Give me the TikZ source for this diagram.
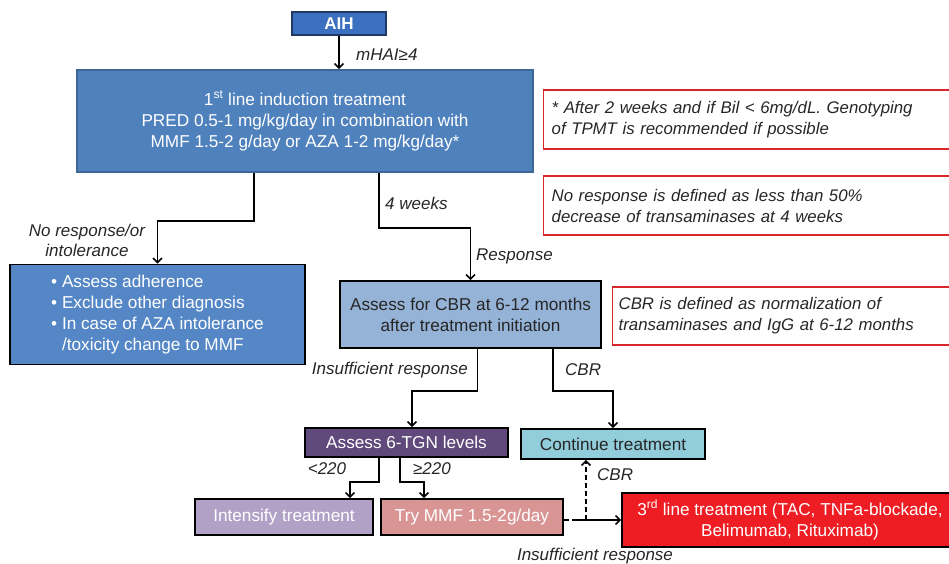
\documentclass[tikz,border=0pt]{standalone}
\usepackage{fontspec}
\setmainfont{Liberation Sans}
\usepackage{tikz}
\usetikzlibrary{positioning, arrows.meta}
\definecolor{aihBlue}{HTML}{3A70BF}
\definecolor{aihBorder}{HTML}{1F3864}
\definecolor{firstBlue}{HTML}{4F81BD}
\definecolor{firstBorder}{HTML}{3D6796}
\definecolor{bulletBlue}{HTML}{5587C6}
\definecolor{cbrBlue}{HTML}{95B3D7}
\definecolor{tgnPurple}{HTML}{604A7B}
\definecolor{continueCyan}{HTML}{92CDDC}
\definecolor{intensifyLilac}{HTML}{B2A1C7}
\definecolor{tryPink}{HTML}{D99594}
\definecolor{thirdRed}{HTML}{EE1D23}
\definecolor{noteRed}{HTML}{D9262A}
\definecolor{darkText}{HTML}{262626}
\tikzstyle{chart} = [x = 1pt, y = -1pt]
\tikzstyle{boxStyle} = [draw=black, line width=1.6pt, inner sep=0pt, align=center, font=\fontsize{17.2}{21}\selectfont]
\tikzstyle{whiteBox} = [boxStyle, text=white]
\tikzstyle{noteStyle} = [draw=noteRed, line width=1.3pt, anchor=west, align=left, inner ysep=0pt, minimum height=59pt, text=darkText, font=\fontsize{16.8}{21}\selectfont\itshape]
\tikzstyle{flowLine} = [line width=1.6pt, -{Straight Barb[length=4.5pt, width=9pt]}]
\tikzstyle{dashLine} = [dash pattern=on 5pt off 3pt]
\tikzstyle{flowLabel} = [font=\fontsize{17}{20}\selectfont\itshape, text=darkText, inner sep=0pt]
\tikzset{sizedBox/.style 2 args={minimum width=#1pt, minimum height=#2pt}}

\begin{document}
\begin{tikzpicture}[chart]
  \useasboundingbox (0,0) rectangle (949,564);
  % boxes
  \node [whiteBox, fill=aihBlue, draw=aihBorder, sizedBox={94}{23}, font=\fontsize{17}{20}\selectfont\bfseries] (aih) at (339,23.5) {AIH};
  \node [whiteBox, fill=firstBlue, draw=firstBorder, sizedBox={456}{102}] (firstLine) at (305,121) {1\textsuperscript{st} line induction treatment\\PRED 0.5-1 mg/kg/day in combination with\\MMF 1.5-2 g/day or AZA 1-2 mg/kg/day*};
  \node [whiteBox, fill=bulletBlue, sizedBox={295}{100}, align=left] (adherence) at (157.5,314.5) {\textbullet\ Assess adherence\\\textbullet\ Exclude other diagnosis\\\textbullet\ In case of AZA intolerance\\\hphantom{\textbullet\ }/toxicity change to MMF};
  \node [boxStyle, fill=cbrBlue, text=darkText, sizedBox={261}{67}] (cbrBox) at (470.5,314.5) {Assess for CBR at 6-12 months\\after treatment initiation};
  \node [whiteBox, fill=tgnPurple, sizedBox={203}{29}] (tgn) at (406.5,442.5) {Assess 6-TGN levels};
  \node [boxStyle, fill=continueCyan, text=darkText, sizedBox={184}{30}] (continue) at (613,444) {Continue treatment};
  \node [whiteBox, fill=intensifyLilac, sizedBox={178}{36}] (intensify) at (284,517) {Intensify treatment};
  \node [whiteBox, fill=tryPink, sizedBox={182}{36}] (tryMmf) at (472,517) {Try MMF 1.5-2g/day};
  \node [whiteBox, fill=thirdRed, sizedBox={336}{54}] (thirdLine) at (790,520) {3\textsuperscript{rd} line treatment (TAC, TNFa-blockade,\\Belimumab, Rituximab)};
  % notes
  \node [noteStyle, text width=396pt, inner xsep=8pt] (noteStar) at (543,119.5) {* After 2 weeks and if Bil < 6mg/dL. Genotyping\\of TPMT is recommended if possible};
  \node [noteStyle, text width=396pt, inner xsep=8pt] (noteResponse) at (543,205.5) {No response is defined as less than 50\%\\decrease of transaminases at 4 weeks};
  \node [noteStyle, text width=333pt, inner xsep=6pt, minimum height=58pt] (noteCbr) at (612,316) {CBR is defined as normalization of\\transaminases and IgG at 6-12 months};
  % connectors
  \draw [flowLine] (aih.south) -- (aih.south |- firstLine.north);
  \node [flowLabel, anchor=west] (mhaiLabel) at (356,55) {mHAI≥4};
  \draw [flowLine] ([xshift=-51pt]firstLine.south) -- ++(0,48) -| (adherence.north);
  \node [flowLabel, align=center] (noResponseLabel) at (87,240) {No response/or\\intolerance};
  \draw [flowLine] ([xshift=74pt]firstLine.south) -- ++(0,55) -| (cbrBox.north);
  \node [flowLabel, anchor=west] (weeksLabel) at (385,203) {4 weeks};
  \node [flowLabel, anchor=west] (responseLabel) at (476,256) {Response};
  \draw [flowLine] ([xshift=7pt]cbrBox.south) -- ++(0,42) -| ([xshift=5.5pt]tgn.north);
  \node [flowLabel, anchor=east] (insufficientLabel) at (468,370) {Insufficient response};
  \draw [flowLine] ([xshift=82.5pt]cbrBox.south) -- ++(0,42) -| (continue.north);
  \node [flowLabel, anchor=west] (cbrLabel) at (565,370) {CBR};
  \draw [flowLine] ([xshift=-27.5pt]tgn.south) -- ++(0,24) -| ([xshift=66pt]intensify.north);
  \node [flowLabel] (lowLabel) at (327,469) {<220};
  \draw [flowLine] ([xshift=-6.5pt]tgn.south) -- ++(0,24) -| ([xshift=-48pt]tryMmf.north);
  \node [flowLabel] (highLabel) at (432,469) {≥220};
  \coordinate (junction) at (586,520);
  \draw [line width=1.6pt, dashLine] (tryMmf.east |- junction) -- (junction);
  \draw [flowLine, dashLine] (junction) -- (continue.south -| junction);
  \node [flowLabel, anchor=west] (cbrLabelLow) at (597,475) {CBR};
  \draw [flowLine] ([xshift=-9pt]junction) -- (thirdLine.west |- junction);
  \node [flowLabel] (insufficientLabelLow) at (595,556) {Insufficient response};
\end{tikzpicture}
\end{document}
